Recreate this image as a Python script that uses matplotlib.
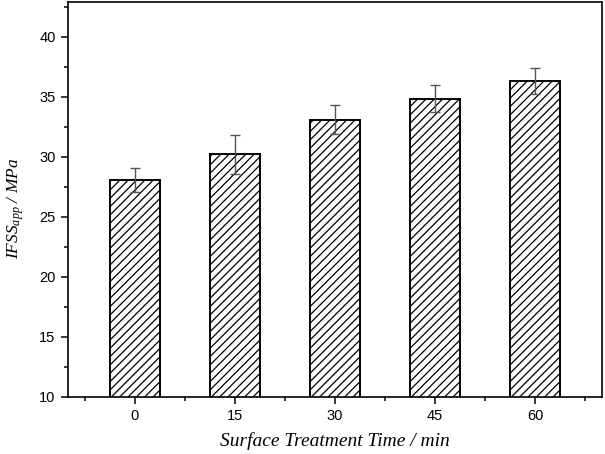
import matplotlib.pyplot as plt
from matplotlib.ticker import MultipleLocator

# dados
tempos = [0, 15, 30, 45, 60]
ifss = [28.1, 30.2, 33.1, 34.85, 36.3]
erros = [1.0, 1.65, 1.2, 1.15, 1.1]

plt.rcParams['mathtext.fontset'] = 'custom'
plt.rcParams['mathtext.rm'] = 'Liberation Serif:italic'
plt.rcParams['mathtext.it'] = 'Liberation Serif:italic'
plt.rcParams['hatch.linewidth'] = 0.9

fig = plt.figure(figsize=(6.05, 4.54), dpi=100)
ax = fig.add_axes([0.1124, 0.1256, 0.8826, 0.870])

ax.bar(tempos, ifss, width=7.5, color='white', edgecolor='black',
       linewidth=1.4, hatch='////', zorder=2)
ax.errorbar(tempos, ifss, yerr=erros, fmt='none', ecolor='#555555',
            elinewidth=1.0, capsize=3.5, capthick=1.0, zorder=3)

ax.set_xlim(-10, 70)
ax.set_ylim(10, 42.9)
ax.set_xticks(tempos)
ax.xaxis.set_minor_locator(MultipleLocator(7.5))
ax.yaxis.set_major_locator(MultipleLocator(5))
ax.yaxis.set_minor_locator(MultipleLocator(2.5))
ax.tick_params(which='major', direction='out', length=5, width=1.1,
               labelsize=10.5, pad=4)
ax.tick_params(which='minor', direction='out', length=3, width=1.1)
for lbl in ax.get_xticklabels() + ax.get_yticklabels():
    lbl.set_fontfamily('Liberation Sans')
for s in ax.spines.values():
    s.set_linewidth(1.2)

ax.set_xlabel('Surface Treatment Time / min', fontsize=14,
              family='Liberation Serif', style='italic')
ax.set_ylabel('IFSS$_{app}$ / MPa', fontsize=12.5,
              family='Liberation Serif', style='italic')
ax.xaxis.set_label_coords(0.5, -0.088)
ax.yaxis.set_label_coords(-0.078, 0.478)

fig.savefig('out.png', dpi=100)
